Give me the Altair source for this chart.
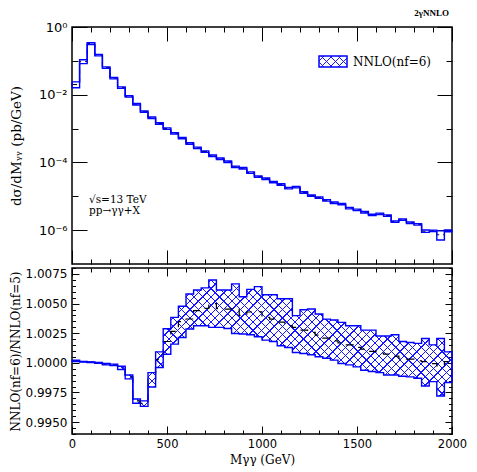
import altair as alt
import pandas as pd

# ---------------- data ----------------
bin_width = 40
bin_lo = list(range(0, 2000, bin_width))  # 50 bins of 40 GeV

# upper panel: NNLO(nf=6) d(sigma)/dM  [pb/GeV] and relative half-width of band
xsec = [2.00e-2, 9.50e-2, 3.24e-1, 1.48e-1, 6.31e-2, 3.09e-2, 1.62e-2, 8.91e-3, 5.25e-3, 3.16e-3,
        2.09e-3, 1.41e-3, 1.00e-3, 7.24e-4, 5.25e-4, 3.63e-4, 2.69e-4, 2.09e-4, 1.58e-4, 1.29e-4,
        1.05e-4, 7.41e-5, 6.76e-5, 5.01e-5, 3.80e-5, 3.31e-5, 2.63e-5, 2.24e-5, 1.74e-5, 1.86e-5,
        1.29e-5, 1.05e-5, 9.12e-6, 7.59e-6, 6.46e-6, 5.89e-6, 4.47e-6, 3.98e-6, 3.39e-6, 2.82e-6,
        3.02e-6, 2.69e-6, 1.78e-6, 2.04e-6, 1.66e-6, 1.48e-6, 9.33e-7, 9.55e-7, 7.30e-7, 9.55e-7]
xsec_unc = [0.20, 0.13, 0.06, 0.05, 0.05, 0.05, 0.05, 0.05, 0.05, 0.05,
            0.05, 0.05, 0.05, 0.05, 0.05, 0.05, 0.05, 0.05, 0.05, 0.05,
            0.05, 0.05, 0.05, 0.05, 0.05, 0.05, 0.05, 0.05, 0.05, 0.05,
            0.05, 0.05, 0.05, 0.05, 0.05, 0.05, 0.05, 0.05, 0.05, 0.05,
            0.05, 0.05, 0.05, 0.05, 0.05, 0.05, 0.08, 0.05, 0.30, 0.06]

# lower panel: ratio NNLO(nf=6)/NNLO(nf=5), central value and band
ratio_c = [1.00017, 1.00008, 1.00006, 1.00000, 0.99989, 0.99983, 0.99958, 0.99884, 0.99679, 0.99659,
           0.99862, 1.00028, 1.00180, 1.00265, 1.00347, 1.00370, 1.00440, 1.00460, 1.00499, 1.00457,
           1.00454, 1.00457, 1.00400, 1.00429, 1.00431, 1.00384, 1.00369, 1.00344, 1.00313, 1.00299,
           1.00276, 1.00257, 1.00234, 1.00209, 1.00186, 1.00169, 1.00152, 1.00130, 1.00116, 1.00096,
           1.00082, 1.00073, 1.00056, 1.00039, 1.00031, 1.00017, 1.00011, 0.99994, 0.99975, 1.00011]
ratio_hi = [1.00023, 1.00011, 1.00008, 1.00003, 0.99994, 0.99989, 0.99972, 0.99898, 0.99695, 0.99679,
            0.99918, 1.00093, 1.00288, 1.00384, 1.00477, 1.00581, 1.00615, 1.00632, 1.00699, 1.00615,
            1.00615, 1.00666, 1.00558, 1.00620, 1.00643, 1.00575, 1.00575, 1.00541, 1.00541, 1.00398,
            1.00448, 1.00454, 1.00412, 1.00369, 1.00361, 1.00341, 1.00313, 1.00313, 1.00276, 1.00276,
            1.00226, 1.00226, 1.00237, 1.00180, 1.00172, 1.00164, 1.00206, 1.00152, 1.00206, 1.00093]
ratio_lo = [1.00011, 1.00006, 1.00003, 0.99997, 0.99983, 0.99977, 0.99944, 0.99865, 0.99659, 0.99633,
            0.99797, 0.99961, 1.00073, 1.00158, 1.00214, 1.00285, 1.00313, 1.00313, 1.00299, 1.00299,
            1.00290, 1.00248, 1.00243, 1.00237, 1.00220, 1.00192, 1.00180, 1.00144, 1.00130, 1.00087,
            1.00079, 1.00068, 1.00051, 1.00039, 1.00023, 0.99994, 0.99983, 0.99966, 0.99938, 0.99927,
            0.99918, 0.99898, 0.99898, 0.99887, 0.99882, 0.99870, 0.99805, 0.99842, 0.99721, 0.99834]

x_major = [0, 500, 1000, 1500, 2000]
x_minor = [v for v in range(100, 2000, 100) if v % 500 != 0]
top_major = [1, 1e-2, 1e-4, 1e-6]
top_minor = [1e-1, 1e-3, 1e-5]
bot_major = [0.995, 0.9975, 1.0, 1.0025, 1.005, 1.0075]
bot_minor = [round(0.994 + 0.0005 * i, 4) for i in range(29)]
bot_minor = [v for v in bot_minor if all(abs(v - m) > 1e-6 for m in bot_major)]

# ---------------- table for step drawing ----------------
def ext(a):
    return list(a) + [a[-1]]

df = pd.DataFrame({
    "x": bin_lo + [2000],
    "top_c": ext(xsec),
    "top_hi": ext([c * (1 + u) for c, u in zip(xsec, xsec_unc)]),
    "top_lo": ext([c * (1 - u) for c, u in zip(xsec, xsec_unc)]),
    "r_c": ext(ratio_c),
    "r_hi": ext(ratio_hi),
    "r_lo": ext(ratio_lo),
})
ends = df.iloc[[0, len(df) - 1]].reset_index(drop=True)

# ---------------- styling ----------------
W, HT, HB = 380, 237, 166
BLUE = "#0000ff"
HATCH = "#1515ff"
BOT_DOM = [0.994, 1.008]
EXT = 41


def hatch(w, h, direction, period=8.4, lw=1.3, s=1.3):
    L = s * (w + h * h / w)
    if direction == "a":
        x1, y1, x2, y2 = 0, 0, s, s * h / w
    else:
        x1, y1, x2, y2 = 0, 1, s, 1 - s * h / w
    dt = period / L
    lwt = lw / L
    clear = "rgba(255,255,255,0)"
    stops = [alt.GradientStop(color=clear, offset=0)]
    t = dt / 2
    while t + lwt < 1:
        stops += [alt.GradientStop(color=clear, offset=round(t, 5)),
                  alt.GradientStop(color=HATCH, offset=round(t, 5)),
                  alt.GradientStop(color=HATCH, offset=round(t + lwt, 5)),
                  alt.GradientStop(color=clear, offset=round(t + lwt, 5))]
        t += dt
    stops.append(alt.GradientStop(color=clear, offset=1))
    return alt.LinearGradient(gradient="linear", stops=stops, x1=x1, y1=y1, x2=x2, y2=y2)


def tick_axis(orient, offset, values, size):
    return alt.Axis(orient=orient, offset=offset, values=values, tickSize=size, ticks=True,
                    labels=False, domain=False, grid=False, title=None,
                    tickColor="black", tickWidth=1)


def X(axis):
    return alt.X("x:Q", scale=alt.Scale(domain=[0, 2000], nice=False, zero=False), axis=axis)


def YT(field, axis):
    return alt.Y(f"{field}:Q", scale=alt.Scale(type="log", domain=[1e-7, 1], nice=False), axis=axis)


def YB(field, axis):
    return alt.Y(f"{field}:Q", scale=alt.Scale(domain=BOT_DOM, nice=False, zero=False), axis=axis)


# ---------------- top panel ----------------
top_label_axis = alt.Axis(
    orient="left", values=top_major, ticks=False, tickSize=0, domain=False, grid=False,
    labelFlush=False,
    labelExpr="datum.value > 0.5 ? '10⁰' : datum.value > 0.005 ? '10⁻²' : datum.value > 0.00005 ? '10⁻⁴' : '10⁻⁶'",
    labelFont="DejaVu Sans", labelFontSize=13, labelPadding=5, labelColor="black",
    title="dσ/dMᵧᵧ  (pb/GeV)", titleFont="DejaVu Serif", titleFontSize=13.5,
    titleFontWeight="normal", titleColor="black", titlePadding=8,
    minExtent=EXT, maxExtent=EXT)

t_center = alt.Chart(df).mark_line(interpolate="step-after", color="black", strokeWidth=1,
                                   strokeDash=[5, 4]).encode(
    x=X(tick_axis("top", -HT, x_minor, 5)), y=YT("top_c", tick_axis("right", -W, top_minor, 6)))
t_hi = alt.Chart(df).mark_line(interpolate="step-after", color=BLUE, strokeWidth=1.4).encode(
    x=X(tick_axis("bottom", -HT, x_minor, 5)), y=YT("top_hi", top_label_axis))
t_lo = alt.Chart(df).mark_line(interpolate="step-after", color=BLUE, strokeWidth=1.4).encode(
    x=X(tick_axis("bottom", -HT, x_major, 14)), y=YT("top_lo", tick_axis("right", -W, top_major, 15)))
t_ends = alt.Chart(ends).mark_rule(color=BLUE, strokeWidth=1.4).encode(
    x=X(tick_axis("top", -HT, x_major, 14)), y=YT("top_lo", tick_axis("left", -W, top_major, 15)),
    y2="top_hi:Q")
t_dummy = alt.Chart(df).mark_line(strokeOpacity=0).encode(
    x=X(None), y=YT("top_c", tick_axis("left", -W, top_minor, 6)))

one = pd.DataFrame({"a": [0]})
leg_a = alt.Chart(one).mark_rect(fill=hatch(28, 11, "a"), stroke=BLUE, strokeWidth=1.5).encode(
    x=alt.value(247), x2=alt.value(275), y=alt.value(29), y2=alt.value(40))
leg_b = alt.Chart(one).mark_rect(fill=hatch(28, 11, "b")).encode(
    x=alt.value(247), x2=alt.value(275), y=alt.value(29), y2=alt.value(40))
leg_txt = alt.Chart(one).mark_text(text="NNLO(nf=6)", align="left", baseline="middle",
                                   font="DejaVu Serif", fontSize=12, color="black").encode(
    x=alt.value(281), y=alt.value(35))
ann = alt.Chart(one).mark_text(text="√s=13 TeV\npp→γγ+X", lineBreak="\n", lineHeight=11,
                               align="left", baseline="middle", font="DejaVu Serif",
                               fontSize=10.5, color="black").encode(
    x=alt.value(17), y=alt.value(173))
corner = alt.Chart(one).mark_text(text="2γNNLO", align="right", baseline="middle",
                                  font="Liberation Serif", fontWeight="bold", fontSize=9,
                                  color="black").encode(x=alt.value(377), y=alt.value(-14))

top = alt.layer(t_center, t_hi, t_lo, t_ends, t_dummy, leg_a, leg_b, leg_txt, ann, corner).resolve_axis(
    x="independent", y="independent").properties(width=W, height=HT)

# ---------------- bottom panel ----------------
hmax = max(ratio_hi)
lmin = min(ratio_lo)
band_h = (hmax - lmin) / (BOT_DOM[1] - BOT_DOM[0]) * HB

bot_label_x = alt.Axis(
    orient="bottom", values=x_major, format="d", ticks=False, tickSize=0, domain=False, grid=False,
    labelFlush=False,
    labelFont="DejaVu Sans", labelFontSize=11.5, labelPadding=4, labelColor="black",
    title="Mγγ (GeV)", titleFont="DejaVu Serif", titleFontSize=12, titleFontWeight="normal",
    titleColor="black", titlePadding=3, minExtent=17, maxExtent=17)
bot_label_y = alt.Axis(
    orient="left", values=bot_major, format=".4f", ticks=False, tickSize=0, domain=False,
    labelFlush=False,
    grid=False, labelFont="DejaVu Sans", labelFontSize=12, labelPadding=5, labelColor="black",
    title="NNLO(nf=6)/NNLO(nf=5)", titleFont="DejaVu Serif", titleFontSize=12,
    titleFontWeight="normal", titleColor="black", titlePadding=9, minExtent=EXT, maxExtent=EXT)

b_area_a = alt.Chart(df).mark_area(interpolate="step-after", fill=hatch(W, band_h, "a"),
                                   opacity=1).encode(
    x=X(bot_label_x), y=YB("r_hi", bot_label_y), y2="r_lo:Q")
b_area_b = alt.Chart(df).mark_area(interpolate="step-after", fill=hatch(W, band_h, "b"),
                                   opacity=1).encode(
    x=X(tick_axis("top", -HB, x_minor, 4)), y=YB("r_hi", tick_axis("right", -W, bot_minor, 3.5)),
    y2="r_lo:Q")
b_center = alt.Chart(df).mark_line(interpolate="step-after", color="black", strokeWidth=1.2,
                                   strokeDash=[8, 7]).encode(
    x=X(tick_axis("top", -HB, x_major, 8)), y=YB("r_c", tick_axis("right", -W, bot_major, 7)))
b_hi = alt.Chart(df).mark_line(interpolate="step-after", color=BLUE, strokeWidth=1.4).encode(
    x=X(tick_axis("bottom", -HB, x_minor, 4)), y=YB("r_hi", tick_axis("left", -W, bot_minor, 3.5)))
b_lo = alt.Chart(df).mark_line(interpolate="step-after", color=BLUE, strokeWidth=1.4).encode(
    x=X(tick_axis("bottom", -HB, x_major, 8)), y=YB("r_lo", tick_axis("left", -W, bot_major, 7)))
b_ends = alt.Chart(ends).mark_rule(color=BLUE, strokeWidth=1.4).encode(
    x=X(None), y=YB("r_lo", None), y2="r_hi:Q")

bottom = alt.layer(b_area_a, b_area_b, b_center, b_hi, b_lo, b_ends).resolve_axis(
    x="independent", y="independent").properties(width=W, height=HB)

chart = alt.vconcat(top, bottom, spacing=0).properties(
    padding={"left": 0, "right": 0, "top": 0, "bottom": 0}
).configure_view(stroke="black", strokeWidth=1.5).configure_axis(grid=False)

chart.save("out.html", embed_options={"renderer": "svg", "actions": False})
